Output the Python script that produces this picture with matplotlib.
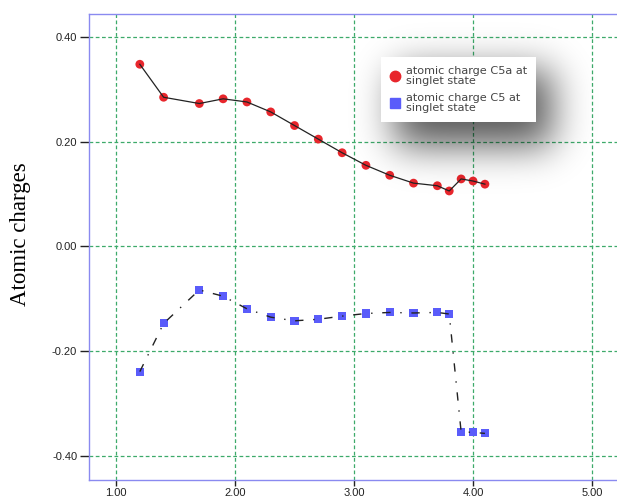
"""
Atomic charges of C5a and C5 at singlet state, redrawn from the reference chart.
"""

import math
import numpy as np
import matplotlib
matplotlib.use("Agg")
import matplotlib.pyplot as plt
from matplotlib.lines import Line2D

# Section: Data
# ---
x_vals = [1.2, 1.4, 1.7, 1.9, 2.1, 2.3, 2.5, 2.7, 2.9, 3.1, 3.3, 3.5, 3.7, 3.8, 3.9, 4.0, 4.1]
c5a_charge = [0.348, 0.285, 0.273, 0.282, 0.276, 0.257, 0.231, 0.205, 0.179, 0.155,
              0.136, 0.121, 0.116, 0.106, 0.129, 0.125, 0.119]
c5_charge = [-0.239, -0.147, -0.083, -0.095, -0.119, -0.135, -0.142, -0.139, -0.133, -0.128,
             -0.126, -0.127, -0.126, -0.129, -0.354, -0.355, -0.357]
legend_labels = ["atomic charge C5a at\nsinglet state", "atomic charge C5 at\nsinglet state"]
x_ticks = [1.0, 2.0, 3.0, 4.0, 5.0]
y_ticks = [-0.4, -0.2, 0.0, 0.2, 0.4]

RED = "#e8262c"
BLUE = "#5a5cfa"
GRID = "#3daa6a"
SPINE = "#8a8af0"

plt.rcParams['font.family'] = ['Liberation Sans', 'DejaVu Sans']

# Section: Figure
# ---
fig = plt.figure(figsize=(6.17, 5.0), dpi=100)
ax = fig.add_axes([89/617, 20/500, (625-89)/617, 466/500])
ax.set_xlim(0.773, 5.277)
ax.set_ylim(-0.446, 0.444)

ax.grid(True, color=GRID, linestyle=(0, (3, 2)), linewidth=0.9)
ax.set_axisbelow(True)

# markers under, black connecting lines on top
ax.scatter(x_vals, c5a_charge, s=40, marker='o', color=RED, edgecolors='none', zorder=3)
ax.scatter(x_vals, c5_charge, s=34, marker='s', color=BLUE, edgecolors='none', zorder=3)
ax.plot(x_vals, c5a_charge, color='#222222', lw=0.9, zorder=4)
ax.plot(x_vals, c5_charge, color='#222222', lw=1.0, linestyle=(0, (6, 7, 1, 7)), zorder=4)

ax.set_xticks(x_ticks)
ax.set_yticks(y_ticks)
ax.set_xticklabels([f"{v:.2f}" for v in x_ticks])
ax.set_yticklabels([f"{v:.2f}".replace("-0.00", "0.00") for v in y_ticks])
ax.tick_params(axis='y', direction='out', length=6.5, width=1, colors='#222222', labelsize=8, pad=2)
ax.tick_params(axis='x', direction='out', length=4, width=1, colors='#222222', labelsize=8, pad=2)
for s in ax.spines.values():
    s.set_color(SPINE)
    s.set_linewidth(1.0)

ax.set_ylabel("Atomic charges", family=['Liberation Serif', 'DejaVu Serif'], fontsize=16.5)
ax.yaxis.set_label_coords(-0.108, 0.528)

# Section: Legend drop shadow (blurred rectangle in pixel space)
# ---
W, H = 617, 500
erf = np.frompyfunc(math.erf, 1, 1)
sig = 19 * math.sqrt(2)
x0, x1, y0, y1 = 395, 552, 70, 146
cols = np.arange(W) + 0.5
rows = np.arange(H) + 0.5
fx = 0.5 * (erf((cols - x0) / sig).astype(float) - erf((cols - x1) / sig).astype(float))
fy = 0.5 * (erf((rows - y0) / sig).astype(float) - erf((rows - y1) / sig).astype(float))
shadow = np.zeros((H, W, 4))
shadow[..., 3] = 0.66 * np.outer(fy, fx)
sax = fig.add_axes([0, 0, 1, 1], zorder=1.5)
sax.imshow(shadow, extent=(0, W, H, 0), aspect='auto', interpolation='bilinear')
sax.set_xlim(0, W)
sax.set_ylim(H, 0)
sax.axis('off')

# Section: Legend
# ---
handles = [Line2D([], [], marker='o', color=RED, linestyle='none', markersize=7.5),
           Line2D([], [], marker='s', color=BLUE, linestyle='none', markersize=6.5)]
lax = fig.add_axes([0, 0, 1, 1], zorder=2)
lax.axis('off')
leg = lax.legend(handles, legend_labels, loc='upper left', bbox_to_anchor=(381/617, 1 - 57/500),
                 frameon=True, fancybox=False, framealpha=1, edgecolor='white',
                 prop={'family': 'DejaVu Sans', 'size': 8.1}, labelcolor='#444444',
                 handlelength=0.9, handletextpad=0.5, labelspacing=0.7,
                 borderpad=0.8, borderaxespad=0)
leg.get_frame().set_linewidth(0)
for t in leg.get_texts():
    t.set_linespacing(0.95)

fig.savefig("out.png", dpi=100)
